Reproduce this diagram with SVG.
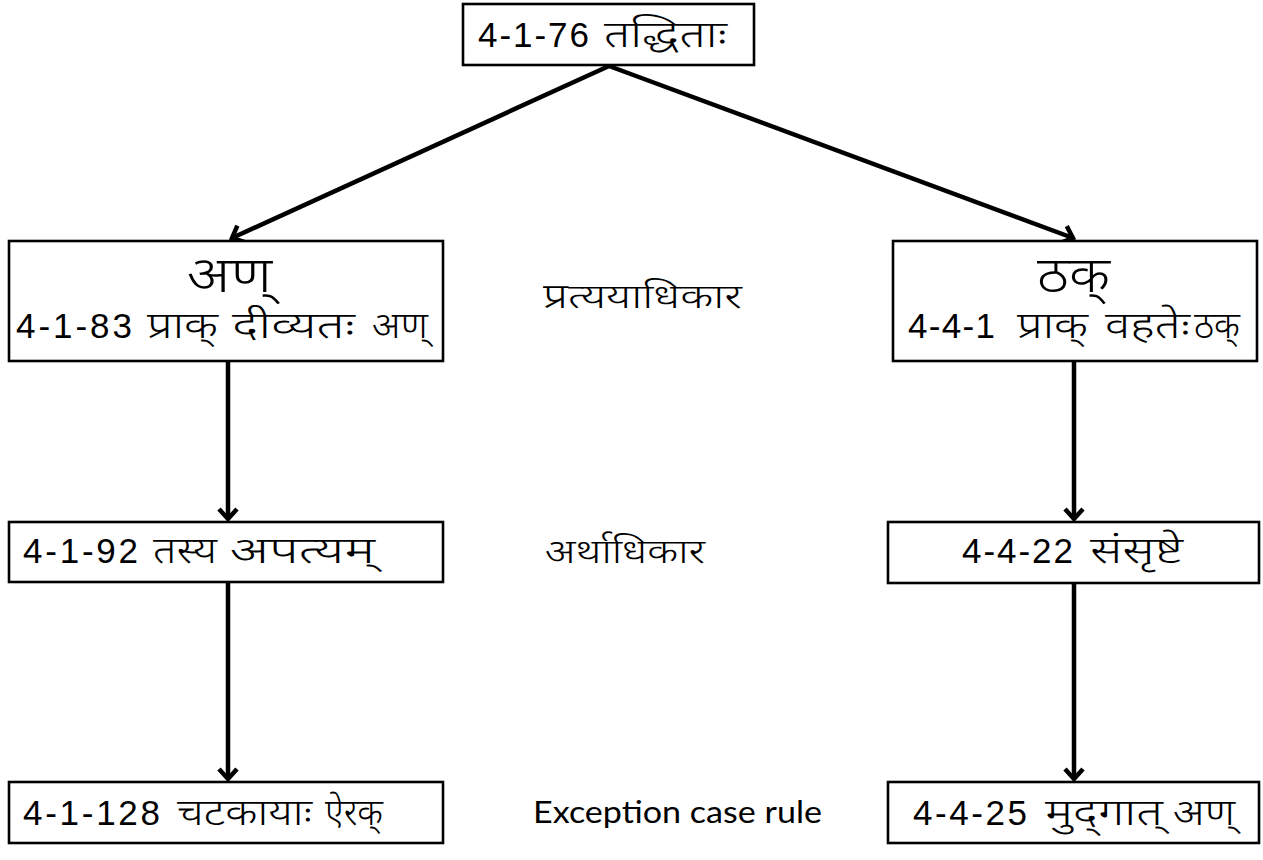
<svg xmlns="http://www.w3.org/2000/svg" width="1263" height="860" viewBox="0 0 1263 860">
<defs>
<style>
.box{fill:#fff;stroke:#000;stroke-width:2.6}
.t{font-family:"Liberation Sans","Noto Sans","Noto Sans Devanagari",sans-serif;font-size:35px;fill:#000}
.d{font-size:36px;font-weight:300}
.big{font-size:50px;font-weight:300}
.lab{font-family:"Noto Sans","Noto Sans Devanagari","Liberation Sans",sans-serif;font-size:34px;font-weight:300;fill:#000}
.en{font-family:"Lato","Open Sans",sans-serif;font-size:31px;fill:#000}
.c{stroke:#000;stroke-width:4.5;fill:none}
</style>
<marker id="ah" markerWidth="24" markerHeight="24" viewBox="-12 -12 24 24" refX="0" refY="0" orient="auto" markerUnits="userSpaceOnUse">
<polyline points="-10,-9 0,0 -10,9" fill="none" stroke="#000" stroke-width="4.5" stroke-linejoin="miter"/>
</marker>
</defs>
<rect width="1263" height="860" fill="#fff"/>
<g id="connectors">
<line class="c" x1="609" y1="66" x2="232" y2="238" marker-end="url(#ah)"/>
<line class="c" x1="609" y1="66" x2="1073" y2="238" marker-end="url(#ah)"/>
<line class="c" x1="228" y1="362" x2="228" y2="519" marker-end="url(#ah)"/>
<line class="c" x1="228" y1="583" x2="228" y2="779" marker-end="url(#ah)"/>
<line class="c" x1="1074" y1="362" x2="1074" y2="519" marker-end="url(#ah)"/>
<line class="c" x1="1074" y1="584" x2="1074" y2="779" marker-end="url(#ah)"/>
</g>
<g id="n-top">
<rect class="box" x="463" y="4" width="291" height="61"/>
<text class="t" y="47"><tspan x="478" textLength="111" lengthAdjust="spacing">4-1-76</tspan> <tspan class="d" x="604" textLength="123" lengthAdjust="spacingAndGlyphs">तद्धिताः</tspan></text>
</g>
<g id="n-an">
<rect class="box" x="9" y="241" width="434" height="120"/>
<text class="t big" x="187" y="292" textLength="85" lengthAdjust="spacingAndGlyphs">अण्</text>
<text class="t" y="338"><tspan x="16" textLength="116" lengthAdjust="spacing">4-1-83</tspan> <tspan class="d" x="147" textLength="71" lengthAdjust="spacingAndGlyphs">प्राक्</tspan> <tspan class="d" x="232" textLength="123" lengthAdjust="spacingAndGlyphs">दीव्यतः</tspan> <tspan class="d" x="372" textLength="56" lengthAdjust="spacingAndGlyphs">अण्</tspan></text>
</g>
<g id="n-thak">
<rect class="box" x="893" y="241" width="364" height="120"/>
<text class="t big" x="1037" y="292" textLength="73" lengthAdjust="spacingAndGlyphs">ठक्</text>
<text class="t" y="338"><tspan x="908" textLength="87" lengthAdjust="spacing">4-4-1</tspan> <tspan class="d" x="1017" textLength="71" lengthAdjust="spacingAndGlyphs">प्राक्</tspan> <tspan class="d" x="1105" textLength="85" lengthAdjust="spacingAndGlyphs">वहतेः</tspan><tspan class="d" x="1194" textLength="46" lengthAdjust="spacingAndGlyphs">ठक्</tspan></text>
</g>
<g id="n-tasya">
<rect class="box" x="9" y="522" width="434" height="60"/>
<text class="t" y="563"><tspan x="23" textLength="115" lengthAdjust="spacing">4-1-92</tspan> <tspan class="d" x="153" textLength="64" lengthAdjust="spacingAndGlyphs">तस्य</tspan> <tspan class="d" x="230" textLength="145" lengthAdjust="spacingAndGlyphs">अपत्यम्</tspan></text>
</g>
<g id="n-chataka">
<rect class="box" x="9" y="782" width="434" height="61"/>
<text class="t" y="825"><tspan x="23" textLength="137" lengthAdjust="spacing">4-1-128</tspan> <tspan class="d" x="177" textLength="135" lengthAdjust="spacingAndGlyphs">चटकायाः</tspan> <tspan class="d" x="325" textLength="58" lengthAdjust="spacingAndGlyphs">ऐरक्</tspan></text>
</g>
<g id="n-samsrshte">
<rect class="box" x="888" y="522" width="371" height="61"/>
<text class="t" y="563"><tspan x="962" textLength="111" lengthAdjust="spacing">4-4-22</tspan> <tspan class="d" x="1090" textLength="93" lengthAdjust="spacingAndGlyphs">संसृष्टे</tspan></text>
</g>
<g id="n-mudgat">
<rect class="box" x="888" y="782" width="371" height="61"/>
<text class="t" y="825"><tspan x="913" textLength="114" lengthAdjust="spacing">4-4-25</tspan> <tspan class="d" x="1045" textLength="118" lengthAdjust="spacingAndGlyphs">मुद्‌गात्</tspan> <tspan class="d" x="1173" textLength="62" lengthAdjust="spacingAndGlyphs">अण्</tspan></text>
</g>
<g id="labels">
<text class="lab" x="543" y="308" textLength="199" lengthAdjust="spacingAndGlyphs">प्रत्ययाधिकार</text>
<text class="lab" x="545" y="563" textLength="160" lengthAdjust="spacingAndGlyphs">अर्थाधिकार</text>
<text class="en" x="533" y="823" textLength="289" lengthAdjust="spacingAndGlyphs">Exception case rule</text>
</g>
</svg>
